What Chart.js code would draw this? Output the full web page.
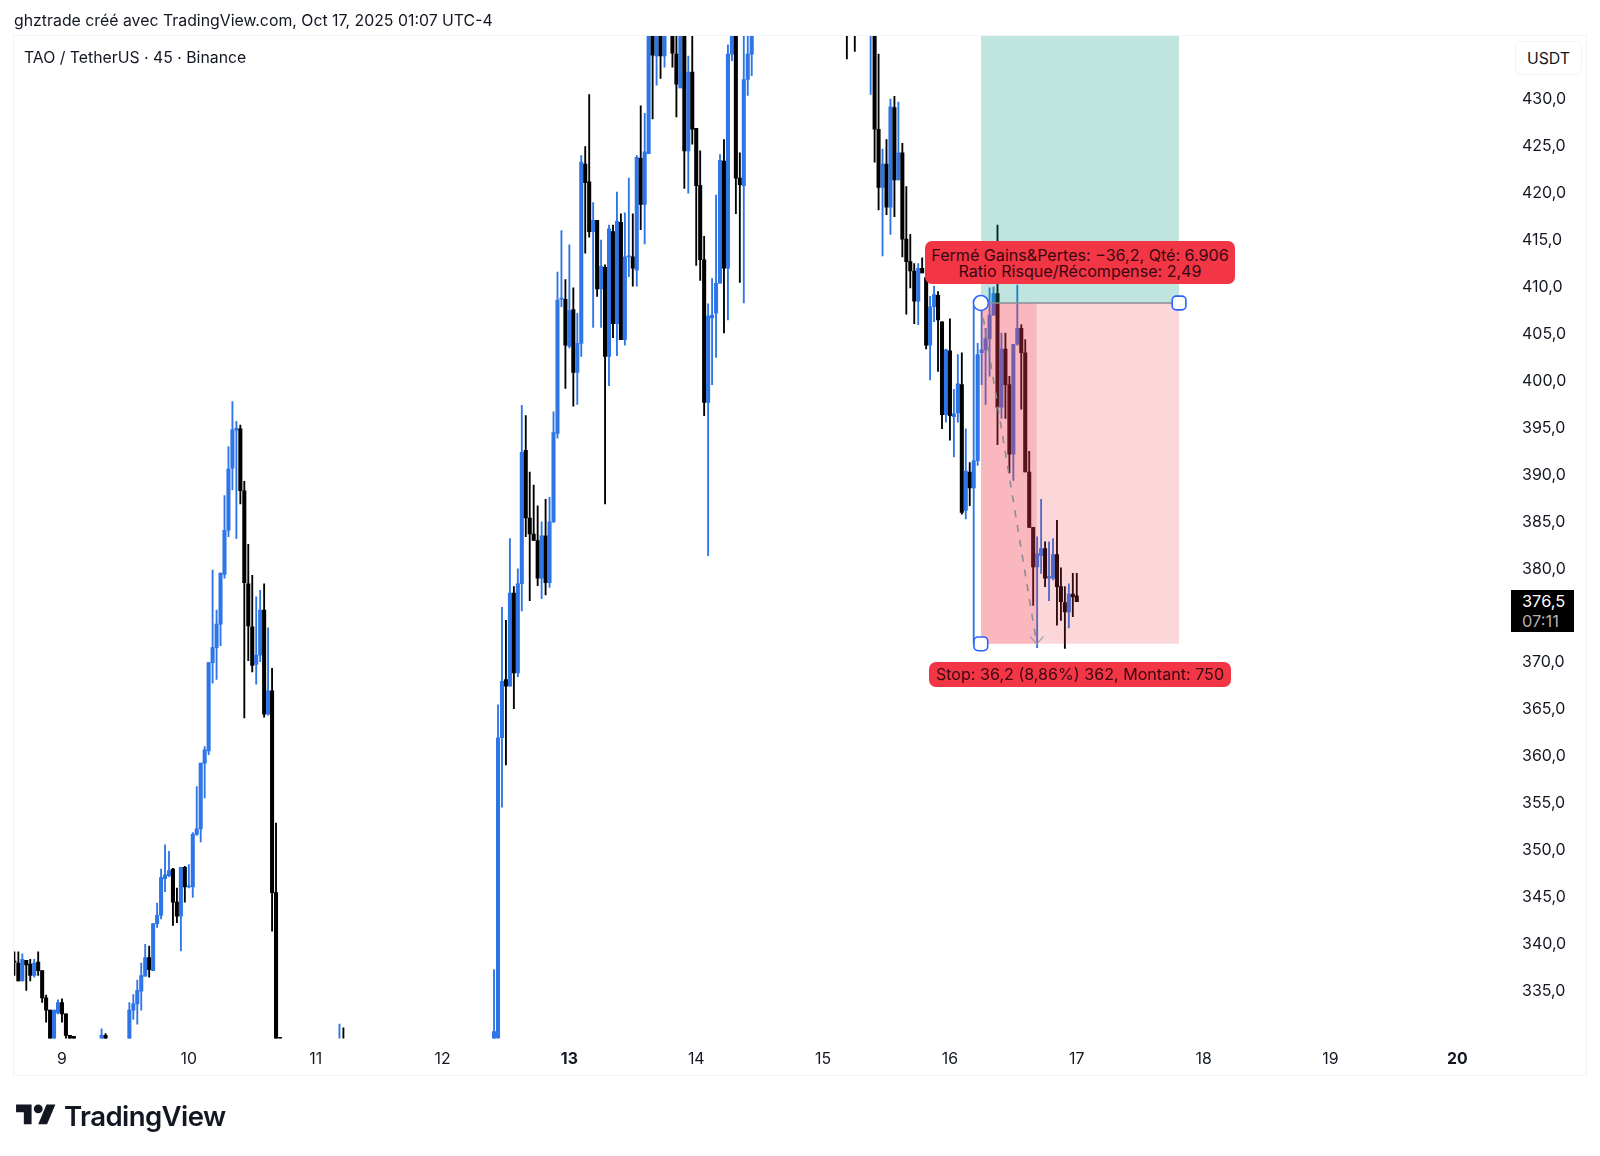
<!DOCTYPE html>
<html lang="fr"><head><meta charset="utf-8"><title>TAO / TetherUS</title>
<script src="https://cdn.jsdelivr.net/npm/chart.js@4"></script>
<style>
html,body{margin:0;padding:0;background:#fff;width:1600px;height:1156px;overflow:hidden;font-family:Inter,"Noto Sans",sans-serif;color:#131722}
#c{position:absolute;left:0;top:0}
.t{position:absolute;white-space:nowrap}
#frame{position:absolute;left:13px;top:35px;width:1574px;height:1041px;border:1px solid #f0f3fa;box-sizing:border-box}
#head{left:14px;top:11px;font-size:15.85px;line-height:20px}
#sym{left:24px;top:48px;font-size:15.8px;line-height:20px}
#cur{left:1515px;top:41px;width:67px;height:34px;border:1px solid #f0f3fa;border-radius:6px;box-sizing:border-box;text-align:center;line-height:33px;font-size:15.8px;background:#fff}
#tag{left:1511px;top:590px;width:63px;height:42px;background:#000;color:#fff;font-size:16.4px;line-height:20px;padding:1px 0 0 11px;box-sizing:border-box}
#tag span{color:#b0b0b0;display:block}
.red{background:#f23645;color:#3a0710;border-radius:7px;text-align:center;font-size:16.1px;line-height:16px}
#l1{left:925px;top:241px;width:310px;height:43px;padding-top:6px;box-sizing:border-box}
#l2{left:929px;top:662px;width:302px;height:25px;line-height:25px}
#logo{position:absolute;left:16px;top:1100px}
#tv{left:64px;top:1098px;font-size:27.6px;font-weight:600;line-height:36px;letter-spacing:-.6px;color:#131722}
</style></head><body>
<div id="frame"></div>
<canvas id="c" width="1600" height="1156" style="width:1600px;height:1156px"></canvas>
<div class="t" id="head">ghztrade créé avec TradingView.com, Oct 17, 2025 01:07 UTC-4</div>
<div class="t" id="sym">TAO / TetherUS · 45 · Binance</div>
<div class="t" id="cur">USDT</div>
<div class="t" id="tag">376,5<span>07:11</span></div>
<div class="t red" id="l1">Fermé Gains&amp;Pertes: −36,2, Qté: 6.906<br>Ratio Risque/Récompense: 2,49</div>
<div class="t red" id="l2">Stop: 36,2 (8,86%) 362, Montant: 750</div>
<svg id="logo" width="40" height="31" viewBox="0 0 36 28"><path fill="#131722" d="M14 22H7V11H0V4h14v18zM28 22h-8l7.5-18h8L28 22z"/><circle fill="#131722" cx="20" cy="8" r="4"/></svg>
<div class="t" id="tv">TradingView</div>
<script>
const barIndex=[0,1,2,3,4,5,6,7,8,9,10,11,12,13,14,15,22,23,
29,30,31,32,33,34,35,36,37,38,39,40,41,42,43,44,45,46,47,48,49,50,51,52,53,54,55,56,57,58,59,60,61,62,63,64,65,66,67,82,83,
121,122,123,124,125,126,127,128,129,130,131,132,133,134,135,136,137,138,139,140,141,142,143,144,145,146,147,148,149,150,151,152,153,154,155,156,157,158,159,160,161,162,163,164,166,167,168,169,170,171,172,173,174,175,176,177,178,179,180,181,182,183,184,185,186,
210,212,216,217,218,219,220,221,222,223,224,225,226,227,228,229,230,231,232,233,234,235,236,237,238,239,240,241,242,243,244,245,246,247,248,249,250,251,252,253,254,255,256,257,258,259,260,261,262,263,264,265,266,267,268];
const opens=[338.2,338.0,336.1,338.3,337.9,336.7,338.1,337.2,334.3,333.0,329,332.7,333.8,332.6,330.3,330.2,329.5,330.3,
328,333.0,333.66,335.0,336.6,338.6,337.2,342.2,343.1,347.0,347.3,348.0,344.5,343.0,348.2,346.1,346.1,351.7,352.3,359.3,360.6,370.0,371.6,374.1,379.4,384.1,390.7,394.75,394.9,388.3,378.4,373.8,369.8,370.8,375.6,364.5,367.0,345.5,330.0,328,329.6,
328,330,362.0,368.2,367.5,377.4,368.9,378.4,392.6,385.4,383.7,383.0,379.0,383.5,378.5,385.0,394.4,408.7,408.7,403.7,407.6,400.9,404.0,423.1,421.2,415.9,417.1,409.8,412.1,402.6,415.9,406.1,416.9,404.4,413.2,413.2,411.8,423.7,418.8,424.2,440,434.6,439,434.6,440,434.8,431.2,438,424.5,432.9,426.9,420.8,412.9,397.7,406.7,407.2,410.4,423.4,412.0,434.8,438,421.6,420.8,432.1,434.8,
440,440,438,440,426.8,420.6,423.1,418.5,429.1,421.4,424.3,415.1,412.7,411.7,408.5,412,411,403.8,407.9,409.1,406.3,396.4,403.2,396.2,396.6,399.6,386.2,390.3,388.6,391.5,403.0,403.3,404.5,407,409.3,397.2,403.4,399.6,392.2,403.9,405.6,403,390.3,384.4,380.2,381.4,382.15,379,379,381.5,378.1,376.4,375.4,377.3,377.1];
const highs=[339.2,339.2,339.0,338.3,338.4,338.4,339.2,337.2,334.6,333.0,333.0,334.1,334.2,332.6,330.3,330.2,331.0,330.5,
333.8,334.65,336.2,338.0,340.0,339.8,342.2,344.4,348.0,350.6,349.9,348.1,346.0,348.2,348.3,348.5,351.9,356.8,359.3,361.05,370.0,379.85,375.6,379.6,387.8,393.0,397.8,395.7,395.3,389.3,382.6,379.3,377.0,377.7,378.4,373.7,369.4,352.9,330.1,331.5,331.1,
337.3,365.5,375.9,374.5,383.2,378.1,380.0,397.4,396.3,390.3,388.9,386.7,385.0,387.4,387.6,396.7,411.6,416.0,410.8,414.5,409.9,407.2,424.0,424.96,430.5,419.0,417.1,415.0,412.35,416.6,416.6,420.1,417.8,417.9,421.6,417.8,424.0,429.3,428.5,442,441,440,440,440,441,438,438.5,440,434.6,437,426.9,424.5,415.4,408.2,410.9,419.8,424.1,425.7,435.8,440,440,424.3,437,437,440,
441,441,441,440,434.8,424.7,425.7,430,430.3,429.7,425.3,420.7,415.6,412.5,412.5,413.1,412,409,410.1,409.5,406.3,403.4,406.6,399.1,402.8,403,394.9,391.3,408,404,407.9,405.6,409.9,410,416.6,405.1,405.1,400.5,403.9,410.2,406,404.4,392.5,384.4,383.4,387.4,382.85,382.85,383.2,385.15,380.1,378.1,378.4,379.5,379.5];
const lows=[336.7,336.1,336.1,335.1,336.1,336.5,336.7,333.8,331.7,328,328,332.6,331.7,329.5,329.5,329,329.5,329.5,
327.5,332.0,331.5,333.0,336.6,336.5,337.2,341.8,342.7,345.6,347.2,342.0,342.3,339.3,344.5,346.0,345.0,351.6,350.9,355.6,360.2,367.8,368.2,371.8,379.0,383.4,388.4,383.2,386.9,364.1,370.2,369.0,367.7,370.1,364.2,364.4,341.4,327,329.8,327,327.5,
327,329,354.6,359.1,367.5,365.1,368.5,375.5,383.4,376.6,383.0,378.2,376.8,377.2,378.0,384.9,393.9,407.9,399.2,403.5,397.3,397.5,402.6,413.6,415.3,405.7,409.0,405.7,386.9,399.5,404.6,402.7,404.4,403.8,411.1,410.1,410.1,416.1,414.6,424.2,427.9,431.5,432.2,433.4,433.4,428.1,431.2,420.5,420.0,425.2,412.3,410.7,396.3,381.4,399.6,402.5,410.4,405.1,406.5,434.1,417.8,410.5,408.3,430.4,432.5,
434.3,435.1,430.5,423.3,418.2,413.3,417.7,415.6,417.5,421.4,413.2,407.1,409.9,406.1,406,411.5,403.4,400.1,406.3,401,394.9,395.6,393.7,391.9,395.6,385.8,385.3,386.7,372.0,391,399.6,397.5,400.5,407,393.2,396,396,390.2,389.4,403.8,397,390.3,384.4,376.1,371.6,379.5,378.1,376.6,378.8,374.0,374.5,371.5,373.7,374.9,376.5];
const closes=[338.1,336.1,338.4,337.8,336.7,338.0,337.2,334.3,333.0,329,333.0,333.8,332.6,330.3,329.9,329.6,330.3,329.7,
333.0,333.66,335.1,336.66,338.6,337.3,342.2,343.1,347.1,347.4,347.85,344.5,343.0,348.2,346.1,346.2,351.7,352.3,359.3,360.7,370.0,371.6,374.1,379.5,384.1,390.6,394.8,394.95,388.3,378.5,373.9,369.7,370.8,375.6,364.5,367.0,345.5,328,329.9,329.5,328,
330.7,362.0,368.0,367.5,377.4,368.9,378.4,392.4,385.4,383.7,383.0,379.0,383.5,378.5,385.0,394.5,408.6,408.8,403.8,407.5,400.9,404.0,423.3,421.1,415.9,417.1,409.8,412.2,402.6,416.2,406.1,417.0,404.4,413.2,413.3,412.0,423.8,418.8,424.4,440,434.7,439,434.6,438,434.9,431.6,438,424.5,432.9,426.8,420.8,412.9,397.7,406.9,407.0,410.4,423.5,412.0,434.8,438,421.6,420.9,432.1,434.8,438,
438,438,440,426.8,420.6,423.1,418.5,429.2,421.4,424.3,415.1,412.7,411.7,408.5,412,411.5,403.8,407.9,409.2,406.5,396.4,403.3,396.3,396.5,399.7,386.0,390.4,388.6,391.5,402.8,403.3,404.5,407,409.3,397.2,403.4,399.6,392.2,403.9,405.6,403,390.3,384.4,380.2,381.6,382.15,379,379.15,381.5,378.1,376.5,375.4,377.3,377.0,376.5];
const dayLabels=[9,10,11,12,13,14,15,16,17,18,19,20];
const boldDays=[13,20];
const priceTicks=[335,340,345,350,355,360,365,370,375,380,385,390,395,400,405,410,415,420,425,430];
const entryPrice=408.3, stopPrice=372.0, targetPrice=498.5;
const posStartBar=243.8, posHitBar=257.9, posEndBar=293.8;
const tradePathBars=[243.8,257.9];
const tradePathPrices=[408.3,372.0];
const arrowBars=[256.2,257.9,259.6];
const arrowPrices=[372.8,372.0,372.8];
const firstDayBar=12, barsPerDay=32;
const UP='#2e76e8', DOWN='#000000';

const colorOf=i=>closes[i]>=opens[i]?UP:DOWN;
const barOfDay=d=>firstDayBar+(d-dayLabels[0])*barsPerDay;
const wickData=barIndex.map((x,i)=>({x,y:[lows[i],highs[i]]}));
const bodyData=barIndex.map((x,i)=>({x,y:[Math.min(opens[i],closes[i]),Math.max(opens[i],closes[i])]}));
const zone=(x0,x1,y,to,color,order)=>({type:'line',data:[{x:x0,y},{x:x1,y}],fill:{value:to},backgroundColor:color,borderWidth:0,pointRadius:0,order});
const dayOfTick=v=>dayLabels[0]+(v-firstDayBar)/barsPerDay;

new Chart(document.getElementById('c'),{
  type:'bar',
  data:{datasets:[
    {label:'body',data:bodyData,backgroundColor:c=>colorOf(c.dataIndex),barThickness:3.4,minBarLength:1.2,grouped:false,order:10},
    {label:'wick',data:wickData,backgroundColor:c=>colorOf(c.dataIndex),barThickness:1.2,grouped:false,order:11},
    zone(posStartBar,posEndBar,targetPrice,entryPrice,'rgba(8,153,129,0.26)',6),
    zone(posStartBar,posEndBar,stopPrice,entryPrice,'rgba(242,54,69,0.2)',6),
    zone(posStartBar,posHitBar,stopPrice,entryPrice,'rgba(242,54,69,0.2)',5),
    {type:'line',label:'entry',data:[{x:posStartBar,y:entryPrice},{x:posEndBar,y:entryPrice}],borderColor:'#8a8d96',borderWidth:1.6,pointRadius:0,order:3},
    {type:'line',label:'path',data:tradePathBars.map((x,i)=>({x,y:tradePathPrices[i]})),borderColor:'#8a8d96',borderWidth:1.6,borderDash:[7,8],pointRadius:0,order:3},
    {type:'line',label:'arrow',data:arrowBars.map((x,i)=>({x,y:arrowPrices[i]})),borderColor:'#9a9da6',borderWidth:1.2,pointRadius:0,order:3},
    {type:'line',label:'handles',showLine:false,clip:false,
      data:[{x:posStartBar,y:entryPrice},{x:posEndBar,y:entryPrice},{x:posStartBar,y:stopPrice}],
      pointStyle:['circle','rectRounded','rectRounded'],pointRadius:[7.5,8,8],pointBackgroundColor:'#ffffff',pointBorderColor:'#2962ff',pointBorderWidth:1.6,order:1}
  ]},
  options:{
    responsive:false,animation:false,devicePixelRatio:1,
    layout:{padding:{left:14,top:36,right:14,bottom:80}},
    plugins:{legend:{display:false},tooltip:{enabled:false}},
    scales:{
      x:{type:'linear',min:-0.1,max:378.8,offset:false,
        grid:{display:false,drawTicks:false},border:{display:false},
        afterBuildTicks:s=>{s.ticks=dayLabels.map(d=>({value:barOfDay(d)}));},
        afterFit:s=>{s.height=37.5;},
        ticks:{autoSkip:false,maxRotation:0,padding:11,color:'#131722',
          callback:v=>String(dayOfTick(v)),
          font:c=>({family:'Inter',size:15.8,weight:c.tick&&boldDays.includes(dayOfTick(c.tick.value))?'700':'400'})}},
      y:{type:'linear',position:'right',min:329.97,max:436.73,
        grid:{display:false,drawTicks:false},border:{display:false},
        afterBuildTicks:s=>{s.ticks=priceTicks.map(value=>({value}));},
        afterFit:s=>{s.width=70;},
        ticks:{padding:6,color:'#131722',font:{family:'Inter',size:16},
          callback:v=>v.toFixed(1).replace('.',',')}}
    }
  }
});
</script></body></html>
